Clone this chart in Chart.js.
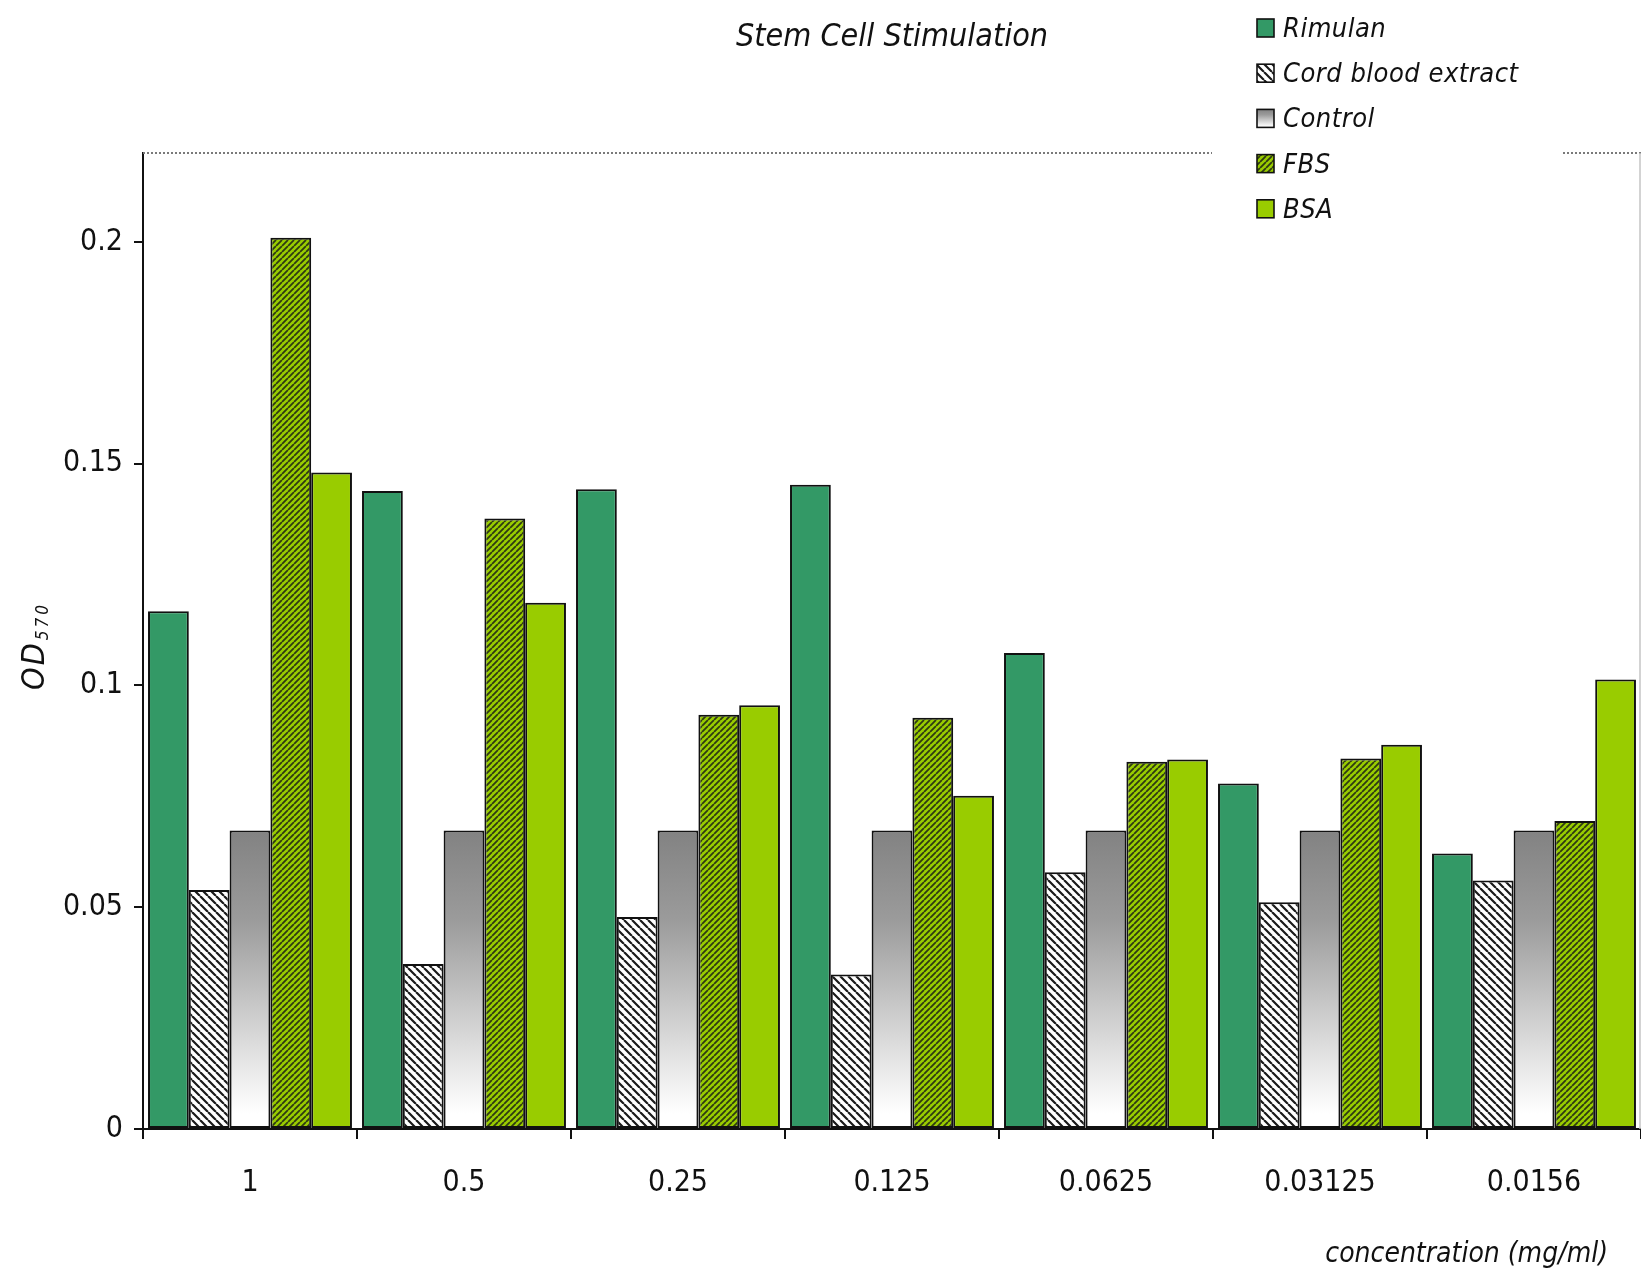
<!DOCTYPE html>
<html>
<head>
<meta charset="utf-8">
<script src="https://cdn.jsdelivr.net/npm/chart.js@4.4.1/dist/chart.umd.min.js"></script>
<style>
  html, body { margin: 0; padding: 0; background: #ffffff; }
  #wrap { width: 1641px; height: 1273px; }
</style>
</head>
<body>
<div id="wrap"><canvas id="chart" width="1641" height="1273"></canvas></div>
<script>
// Concentrations (mg/ml) on the x axis
const categories = ['1', '0.5', '0.25', '0.125', '0.0625', '0.03125', '0.0156'];

// OD570 readings per treatment
const rimulan   = [0.1167, 0.1438, 0.1442, 0.1452, 0.1073, 0.0779, 0.0621];
const cordBlood = [0.0539, 0.0372, 0.0478, 0.0348, 0.0579, 0.0511, 0.0560];
const control   = [0.0673, 0.0673, 0.0673, 0.0673, 0.0673, 0.0673, 0.0673];
const fbs       = [0.2009, 0.1376, 0.0934, 0.0927, 0.0828, 0.0835, 0.0694];
const bsa       = [0.1480, 0.1186, 0.0955, 0.0751, 0.0833, 0.0866, 0.1013];

const seriesNames = ['Rimulan', 'Cord blood extract', 'Control', 'FBS', 'BSA'];
const yTickValues = [0, 0.05, 0.1, 0.15, 0.2];

const FONT = "'Liberation Sans Narrow', 'DejaVu Sans Condensed', 'Liberation Sans', sans-serif";
const INK = '#111111';

const canvas = document.getElementById('chart');
const mainCtx = canvas.getContext('2d');

// Diagonal hatch tiles
function hatch(bg, fg, size, width, dir) {
  const t = document.createElement('canvas');
  t.width = t.height = size;
  const g = t.getContext('2d');
  g.fillStyle = bg;
  g.fillRect(0, 0, size, size);
  g.strokeStyle = fg;
  g.lineWidth = width;
  g.beginPath();
  for (const o of [-size, 0, size]) {
    if (dir === 'down') { g.moveTo(o, 0); g.lineTo(o + size, size); }
    else { g.moveTo(o, size); g.lineTo(o + size, 0); }
  }
  g.stroke();
  return mainCtx.createPattern(t, 'repeat');
}

const cordPattern = hatch('#ffffff', '#1a1a1a', 8, 2.2, 'down');
const fbsPattern = hatch('#99cc00', '#2e3a12', 6, 1.8, 'up');

function greyRamp(ctx, top, bottom) {
  const g = ctx.createLinearGradient(0, top, 0, bottom);
  g.addColorStop(0, '#828282');
  g.addColorStop(0.3, '#9b9b9b');
  g.addColorStop(0.55, '#c2c2c2');
  g.addColorStop(0.78, '#e6e6e6');
  g.addColorStop(0.95, '#ffffff');
  g.addColorStop(1, '#ffffff');
  return g;
}

function controlFill(c) {
  const chart = c.chart;
  if (!chart.chartArea || c.raw === undefined) return '#b0b0b0';
  const ys = chart.scales.y;
  return greyRamp(chart.ctx, ys.getPixelForValue(c.raw), ys.getPixelForValue(0));
}

// Plot frame: dotted top edge and faint right edge
const framePlugin = {
  id: 'frame',
  beforeDatasetsDraw(chart) {
    const { ctx, chartArea: a } = chart;
    ctx.save();
    ctx.strokeStyle = '#7a7a7a';
    ctx.lineWidth = 2;
    ctx.setLineDash([2, 2]);
    ctx.beginPath();
    ctx.moveTo(a.left, a.top);
    ctx.lineTo(a.right, a.top);
    ctx.stroke();
    ctx.setLineDash([]);
    ctx.strokeStyle = '#c4c4c4';
    ctx.lineWidth = 1.5;
    ctx.beginPath();
    ctx.moveTo(a.right - 1, a.top);
    ctx.lineTo(a.right - 1, a.bottom);
    ctx.stroke();
    ctx.restore();
  }
};

// Axis titles and legend drawn on top of the plot
const annotatePlugin = {
  id: 'annotate',
  afterDraw(chart) {
    const ctx = chart.ctx;
    ctx.save();

    // x axis title
    ctx.fillStyle = INK;
    ctx.font = `italic 28px ${FONT}`;
    ctx.letterSpacing = '0px';
    ctx.textAlign = 'right';
    ctx.textBaseline = 'alphabetic';
    ctx.fillText('concentration (mg/ml)', 1608, 1262);

    // y axis title with subscript
    ctx.save();
    ctx.translate(44, 690);
    ctx.rotate(-Math.PI / 2);
    ctx.textAlign = 'left';
    ctx.font = `italic 32px ${FONT}`;
    ctx.letterSpacing = '2px';
    ctx.fillText('OD', 0, 0);
    const w = ctx.measureText('OD').width;
    ctx.font = `italic 17px ${FONT}`;
    ctx.letterSpacing = '3px';
    ctx.fillText('570', w + 1, 4);
    ctx.restore();

    // legend
    ctx.letterSpacing = '0px';
    ctx.fillStyle = '#ffffff';
    ctx.fillRect(1212, 140, 351, 88);
    const fills = [
      () => chart.data.datasets[0].backgroundColor,
      () => cordPattern,
      (top, bottom) => greyRamp(ctx, top, bottom),
      () => fbsPattern,
      () => chart.data.datasets[4].backgroundColor
    ];
    chart.data.datasets.forEach((ds, i) => {
      const base = 37 + i * 45.2;
      const top = base - 18;
      ctx.fillStyle = fills[i](top, base);
      ctx.fillRect(1257, top, 17, 18);
      ctx.strokeStyle = INK;
      ctx.lineWidth = 1.6;
      ctx.strokeRect(1257, top, 17, 18);
      ctx.fillStyle = INK;
      ctx.font = `italic 27px ${FONT}`;
      ctx.letterSpacing = '0.5px';
      ctx.textAlign = 'left';
      ctx.fillText(ds.label, 1283, base);
    });
    ctx.restore();
  }
};

const barStyle = { borderColor: INK, borderWidth: 2, borderSkipped: false };

new Chart(canvas, {
  type: 'bar',
  data: {
    labels: categories,
    datasets: [
      { label: seriesNames[0], data: rimulan,   backgroundColor: '#339966', ...barStyle },
      { label: seriesNames[1], data: cordBlood, backgroundColor: cordPattern, ...barStyle },
      { label: seriesNames[2], data: control,   backgroundColor: controlFill, ...barStyle },
      { label: seriesNames[3], data: fbs,       backgroundColor: fbsPattern, ...barStyle },
      { label: seriesNames[4], data: bsa,       backgroundColor: '#99cc00', ...barStyle }
    ]
  },
  options: {
    responsive: false,
    animation: false,
    devicePixelRatio: 1,
    layout: { padding: { left: 0, right: 0, top: 0, bottom: 0 } },
    datasets: { bar: { categoryPercentage: 0.953, barPercentage: 1 } },
    plugins: {
      legend: { display: false },
      tooltip: { enabled: false },
      title: {
        display: true,
        text: 'Stem Cell Stimulation',
        fullSize: false,
        color: INK,
        font: { family: FONT, size: 32, style: 'italic', weight: 'normal', lineHeight: 1.2 },
        padding: { top: 18, bottom: 96.6 }
      }
    },
    scales: {
      x: {
        z: 1,
        offset: true,
        afterFit: s => { s.height = 144; },
        ticks: { padding: 26, color: INK, font: { family: FONT, size: 30 } },
        grid: { offset: true, drawOnChartArea: false, drawTicks: true, tickLength: 10, color: INK, lineWidth: 2 },
        border: { display: true, color: INK, width: 2 }
      },
      y: {
        z: 1,
        min: 0,
        max: 0.22,
        afterFit: s => { s.width = 143; },
        afterBuildTicks: s => { s.ticks = yTickValues.map(v => ({ value: v })); },
        ticks: {
          padding: 11,
          color: INK,
          font: { family: FONT, size: 30 },
          callback: v => String(+Number(v).toFixed(2))
        },
        grid: { drawOnChartArea: false, drawTicks: true, tickLength: 9, color: INK, lineWidth: 2 },
        border: { display: true, color: INK, width: 2 }
      }
    }
  },
  plugins: [framePlugin, annotatePlugin]
});
</script>
</body>
</html>
